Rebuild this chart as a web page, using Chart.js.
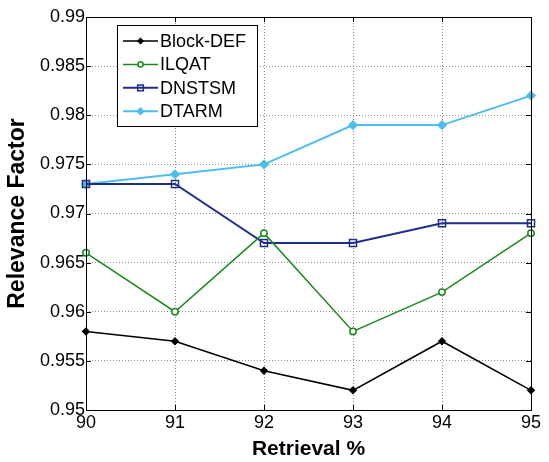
<!DOCTYPE html>
<html>
<head>
<meta charset="utf-8">
<script src="https://cdn.jsdelivr.net/npm/chart.js@4/dist/chart.umd.min.js"></script>
<style>
  html, body { margin: 0; padding: 0; background: #ffffff; }
  #wrap { width: 549px; height: 462px; position: relative; }
</style>
</head>
<body>
<div id="wrap"><canvas id="c" width="549" height="462"></canvas></div>
<script>
// Retrieval percentages on the x axis
const retrieval = [90, 91, 92, 93, 94, 95];

// Relevance factor per method
const blockDef = [0.958, 0.957, 0.954, 0.952, 0.957, 0.952];
const ilqat    = [0.966, 0.960, 0.968, 0.958, 0.962, 0.968];
const dnstsm   = [0.973, 0.973, 0.967, 0.967, 0.969, 0.969];
const dtarm    = [0.973, 0.974, 0.975, 0.979, 0.979, 0.982];

// Axis ticks
const xTicks = [90, 91, 92, 93, 94, 95];
const yTicks = [0.95, 0.955, 0.96, 0.965, 0.97, 0.975, 0.98, 0.985, 0.99];
const yTickLabels = ['0.95', '0.955', '0.96', '0.965', '0.97', '0.975', '0.98', '0.985', '0.99'];

const FONT = "'Liberation Sans', Arial, sans-serif";

const toPoints = (vals) => retrieval.map((x, i) => ({ x: x, y: vals[i] }));

const series = [
  { label: 'Block-DEF', data: blockDef, color: '#000000', style: 'rectRot', radius: 3.2, fill: '#000000', width: 1.5 },
  { label: 'ILQAT',     data: ilqat,    color: '#1a8a1a', style: 'circle',  radius: 3.2, fill: '#ffffff', width: 1.5 },
  { label: 'DNSTSM',    data: dnstsm,   color: '#1f2d8c', style: 'rect',    radius: 5,   fill: 'rgba(255,255,255,0)', width: 2 },
  { label: 'DTARM',     data: dtarm,    color: '#4dbcee', style: 'rectRot', radius: 4,   fill: '#4dbcee', width: 2 }
];

// Axes frame with inward tick marks on all four sides
const framePlugin = {
  id: 'frame',
  afterDatasetsDraw(chart) {
    const { ctx, chartArea: a, scales } = chart;
    ctx.save();
    ctx.strokeStyle = '#000000';
    ctx.lineWidth = 1;
    ctx.setLineDash([]);
    ctx.strokeRect(Math.round(a.left) + 0.5, Math.round(a.top) + 0.5,
                   Math.round(a.right - a.left), Math.round(a.bottom - a.top));
    const len = 5;
    ctx.beginPath();
    xTicks.forEach(v => {
      const x = Math.round(scales.x.getPixelForValue(v)) + 0.5;
      ctx.moveTo(x, a.bottom); ctx.lineTo(x, a.bottom - len);
      ctx.moveTo(x, a.top); ctx.lineTo(x, a.top + len);
    });
    yTicks.forEach(v => {
      const y = Math.round(scales.y.getPixelForValue(v)) + 0.5;
      ctx.moveTo(a.left, y); ctx.lineTo(a.left + len, y);
      ctx.moveTo(a.right, y); ctx.lineTo(a.right - len, y);
    });
    ctx.stroke();
    ctx.restore();
  }
};

// Boxed legend inside the plot area, upper left
const boxLegendPlugin = {
  id: 'boxLegend',
  afterDraw(chart) {
    const { ctx, chartArea: a } = chart;
    const left = a.left + 31, top = a.top + 8, w = 140, h = 101;
    ctx.save();
    ctx.fillStyle = '#ffffff';
    ctx.fillRect(left, top, w, h);
    ctx.strokeStyle = '#000000';
    ctx.lineWidth = 1;
    ctx.strokeRect(Math.round(left) + 0.5, Math.round(top) + 0.5, w, h);
    ctx.font = '18px ' + FONT;
    ctx.textBaseline = 'middle';
    ctx.textAlign = 'left';
    chart.data.datasets.forEach((ds, i) => {
      const y = top + 16 + i * 23.4;
      ctx.strokeStyle = ds.borderColor;
      ctx.lineWidth = ds.borderWidth;
      ctx.beginPath();
      ctx.moveTo(left + 6, y);
      ctx.lineTo(left + 41, y);
      ctx.stroke();
      ctx.fillStyle = ds.pointBackgroundColor;
      ctx.strokeStyle = ds.borderColor;
      ctx.lineWidth = 1.5;
      Chart.helpers.drawPoint(ctx, {
        pointStyle: ds.pointStyle, radius: ds.pointRadius * 0.8, rotation: 0, borderWidth: 1.5
      }, left + 23.5, y);
      ctx.fillStyle = '#000000';
      ctx.fillText(ds.label, left + 43, y + 1);
    });
    ctx.restore();
  }
};

new Chart(document.getElementById('c'), {
  type: 'line',
  data: {
    datasets: series.map(s => ({
      label: s.label,
      data: toPoints(s.data),
      borderColor: s.color,
      backgroundColor: s.color,
      borderWidth: s.width,
      pointStyle: s.style,
      pointRadius: s.radius,
      pointHoverRadius: s.radius,
      pointBackgroundColor: s.fill,
      pointBorderColor: s.color,
      pointBorderWidth: 1.5,
      tension: 0,
      fill: false,
      clip: false
    }))
  },
  options: {
    responsive: false,
    animation: false,
    events: [],
    layout: { padding: { top: 17, right: 18, left: 0, bottom: 0 } },
    plugins: {
      legend: { display: false },
      tooltip: { enabled: false }
    },
    scales: {
      x: {
        type: 'linear',
        min: 90,
        max: 95,
        afterBuildTicks: (scale) => { scale.ticks = xTicks.map(v => ({ value: v })); },
        afterFit: (scale) => { scale.height = 52; },
        ticks: {
          color: '#000000',
          font: { family: FONT, size: 18 },
          padding: 2,
          maxRotation: 0,
          callback: (v) => String(v)
        },
        grid: { color: '#8f8f8f', lineWidth: 1, drawTicks: false },
        border: { display: false, dash: [1, 2] },
        title: {
          display: true,
          text: 'Retrieval %',
          color: '#000000',
          font: { family: FONT, size: 21, weight: 'bold' },
          padding: { top: 0, bottom: 0 }
        }
      },
      y: {
        type: 'linear',
        min: 0.95,
        max: 0.99,
        afterBuildTicks: (scale) => { scale.ticks = yTicks.map(v => ({ value: v })); },
        afterFit: (scale) => { scale.width = 86; },
        ticks: {
          color: '#000000',
          font: { family: FONT, size: 18 },
          padding: 1,
          callback: (v, i) => yTickLabels[i]
        },
        grid: { color: '#8f8f8f', lineWidth: 1, drawTicks: false },
        border: { display: false, dash: [1, 2] },
        title: {
          display: true,
          text: 'Relevance Factor',
          color: '#000000',
          font: { family: FONT, size: 23, weight: 'bold' },
          padding: { top: 4, bottom: 0 }
        }
      }
    }
  },
  plugins: [framePlugin, boxLegendPlugin]
});
</script>
</body>
</html>
